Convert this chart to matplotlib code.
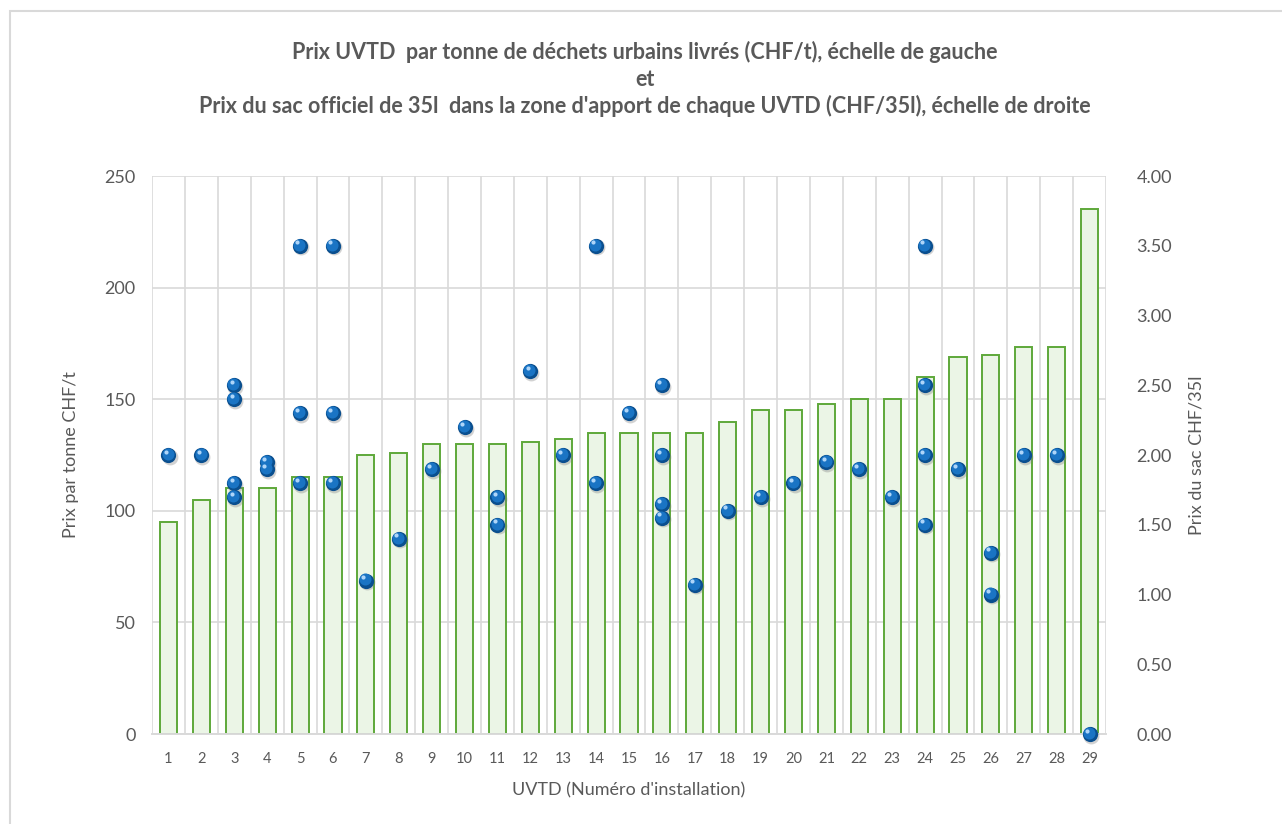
import numpy as np
import matplotlib
matplotlib.use("Agg")
import matplotlib.pyplot as plt
from matplotlib.transforms import ScaledTranslation
from matplotlib.patches import Rectangle

# --- DATA ---
uvtd = list(range(1, 30))
prix_tonne = [95, 105, 110, 110, 115, 115, 125, 126, 130, 130,
              130, 131, 132, 135, 135, 135, 135, 140, 145, 145,
              148, 150, 150, 160, 169, 170, 173.5, 173.5, 235]

# price of the official 35l bag (several communes per UVTD)
sac_uvtd = [1, 2, 3, 3, 3, 3, 4, 4, 5, 5, 5, 6, 6, 6, 7, 8, 9, 10,
            11, 11, 12, 13, 14, 14, 15, 16, 16, 16, 16, 17, 18, 19, 20,
            21, 22, 23, 24, 24, 24, 24, 25, 26, 26, 27, 28, 29]
sac_prix = [2.00, 2.00, 2.50, 2.40, 1.80, 1.70, 1.95, 1.90, 3.50, 2.30, 1.80,
            3.50, 2.30, 1.80, 1.10, 1.40, 1.90, 2.20,
            1.70, 1.50, 2.60, 2.00, 3.50, 1.80, 2.30, 2.50, 2.00, 1.65, 1.55,
            1.07, 1.60, 1.70, 1.80,
            1.95, 1.90, 1.70, 3.50, 2.50, 2.00, 1.50, 1.90, 1.30, 1.00,
            2.00, 2.00, 0.00]

title_lines = ["Prix UVTD  par tonne de déchets urbains livrés (CHF/t), échelle de gauche",
               "et",
               "Prix du sac officiel de 35l  dans la zone d'apport de chaque UVTD (CHF/35l), échelle de droite"]

# --- STYLE ---
TXT = '#595959'
GRID = '#d9d9d9'
plt.rcParams['font.family'] = ['Lato', 'DejaVu Sans']

fig = plt.figure(figsize=(12.82, 8.24), dpi=100)
ax = fig.add_axes([0.1186, 0.1092, 0.7441, 0.6772])
ax2 = ax.twinx()

# bars (left scale)
ax.bar(uvtd, prix_tonne, width=0.52, color='#ebf5e6', edgecolor='#5ea83a',
       linewidth=1.4, zorder=2)
ax.set_xlim(0.5, 29.5)
ax.set_ylim(0, 250)
ax.set_yticks(np.arange(0, 251, 50))
ax.set_xticks(uvtd)
ax.set_xticks(np.arange(0.5, 30, 1), minor=True)
ax.grid(True, which='minor', axis='x', color=GRID, lw=1.2, zorder=0)
ax.grid(True, which='major', axis='y', color=GRID, lw=1.2, zorder=0)
ax.set_axisbelow(True)
ax.tick_params(axis='x', which='both', length=0, labelsize=10.5, colors=TXT, pad=13)
ax.tick_params(axis='y', length=0, labelsize=13, colors=TXT, pad=12)

# markers (right scale)
ax2.set_ylim(0, 4)
ax2.set_yticks(np.arange(0, 4.01, 0.5))
ax2.set_yticklabels([f"{v:.2f}" for v in np.arange(0, 4.01, 0.5)])
ax2.tick_params(axis='y', length=0, labelsize=13, colors=TXT, pad=22)

def shifted(dx, dy):
    return ax2.transData + ScaledTranslation(dx / 72, dy / 72, fig.dpi_scale_trans)

ax2.scatter(sac_uvtd, sac_prix, s=130, color='#7f7f7f', alpha=0.35, lw=0,
            transform=shifted(0.8, -1.2), zorder=3, clip_on=False)
ax2.scatter(sac_uvtd, sac_prix, s=120, color='#0a4f8f', lw=0, zorder=4, clip_on=False)
ax2.scatter(sac_uvtd, sac_prix, s=75, color='#1a74c4', lw=0,
            transform=shifted(-0.6, 0.8), zorder=5, clip_on=False)
ax2.scatter(sac_uvtd, sac_prix, s=9, color='#bfe0ff', lw=0, alpha=0.9,
            transform=shifted(-2.0, 2.4), zorder=6, clip_on=False)

for a in (ax, ax2):
    for side in ('top', 'left', 'right'):
        a.spines[side].set_visible(False)
    a.spines['bottom'].set_color(GRID)
    a.spines['bottom'].set_linewidth(1.2)

ax.set_ylabel("Prix par tonne CHF/t", fontsize=13, color=TXT, labelpad=18)
ax2.set_ylabel("Prix du sac CHF/35l", fontsize=13, color=TXT, labelpad=12)
ax.set_xlabel("UVTD (Numéro d'installation)", fontsize=13, color=TXT, labelpad=12)

for i, line in enumerate(title_lines):
    fig.text(0.503, 1 - (52 + i * 27) / 824, line, ha='center', va='center',
             fontsize=15.5, fontweight='bold', color=TXT)

# chart frame (only top/left edges fall inside the image)
fig.patches.append(Rectangle((10 / 1282, -0.1), 1.2, 1.1 - 11 / 824,
                             transform=fig.transFigure, fill=False,
                             edgecolor=GRID, lw=1.5))

fig.savefig("out.png", dpi=100)
